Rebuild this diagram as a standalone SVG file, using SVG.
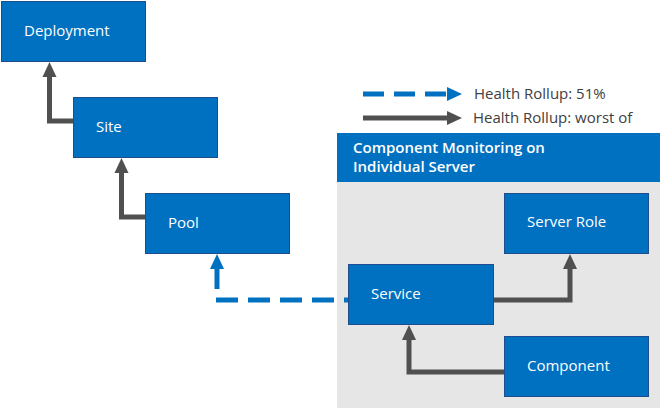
<svg xmlns="http://www.w3.org/2000/svg" width="661" height="409" viewBox="0 0 661 409">
<style>
.box{fill:#0070C0;stroke:#1F4E8C;stroke-width:1}
.lbl{font-family:"Open Sans","Liberation Sans",sans-serif;font-size:15px;fill:#FFFFFF}
.leg{font-family:"Open Sans","Liberation Sans",sans-serif;font-size:15px;fill:#404040}
.hdr{font-family:"Open Sans","Liberation Sans",sans-serif;font-size:15px;font-weight:600;fill:#FFFFFF}
.solid{fill:none;stroke:#505050;stroke-width:5}
.dash{fill:none;stroke:#0070C0;stroke-width:5;stroke-dasharray:22 10}
</style>
<defs>
<marker id="ag" markerUnits="userSpaceOnUse" markerWidth="16" markerHeight="16" viewBox="0 0 16 16" refX="4" refY="8" orient="auto">
<path d="M0,1 L15,8 L0,15 Z" fill="#505050"/>
</marker>
<marker id="ab" markerUnits="userSpaceOnUse" markerWidth="16" markerHeight="16" viewBox="0 0 16 16" refX="4" refY="8" orient="auto">
<path d="M0,1 L15,8 L0,15 Z" fill="#0070C0"/>
</marker>
</defs>
<g id="container">
<rect x="337" y="182" width="323" height="226" fill="#E7E6E6"/>
<rect x="337" y="133" width="323" height="49" fill="#0070C0"/>
<text class="hdr" x="353" y="153">Component Monitoring on</text>
<text class="hdr" x="353" y="172">Individual Server</text>
</g>
<g id="legend">
<path class="dash" d="M363,94 L451,94" style="stroke-dasharray:21 10" marker-end="url(#ab)"/>
<text class="leg" x="474" y="99">Health Rollup: 51%</text>
<path class="solid" d="M363,118 L451,118" marker-end="url(#ag)"/>
<text class="leg" x="473" y="123">Health Rollup: worst of</text>
</g>
<g id="connectors">
<path class="solid" d="M73,121 L49.5,121 L49.5,73" marker-end="url(#ag)"/>
<path class="solid" d="M145,217 L121.5,217 L121.5,169" marker-end="url(#ag)"/>
<path class="solid" d="M493,300 L570,300 L570,265" marker-end="url(#ag)"/>
<path class="solid" d="M504,372 L409,372 L409,336" marker-end="url(#ag)"/>
<path class="dash" d="M348,300 L215,300" style="stroke-dashoffset:18"/>
<path fill="none" stroke="#0070C0" stroke-width="5" d="M217,289 L217,265" marker-end="url(#ab)"/>
</g>
<g id="deployment">
<rect class="box" x="1.5" y="1.5" width="144" height="60"/>
<text class="lbl" x="24" y="36">Deployment</text>
</g>
<g id="site">
<rect class="box" x="73.5" y="97.5" width="144" height="60"/>
<text class="lbl" x="96" y="132">Site</text>
</g>
<g id="pool">
<rect class="box" x="145.5" y="193.5" width="144" height="60"/>
<text class="lbl" x="168" y="228">Pool</text>
</g>
<g id="server-role">
<rect class="box" x="504.5" y="193.5" width="144" height="60"/>
<text class="lbl" x="527" y="227">Server Role</text>
</g>
<g id="service">
<rect class="box" x="348.5" y="264.5" width="145" height="60"/>
<text class="lbl" x="371" y="299">Service</text>
</g>
<g id="component">
<rect class="box" x="504.5" y="336.5" width="144" height="60"/>
<text class="lbl" x="527" y="371">Component</text>
</g>
</svg>
